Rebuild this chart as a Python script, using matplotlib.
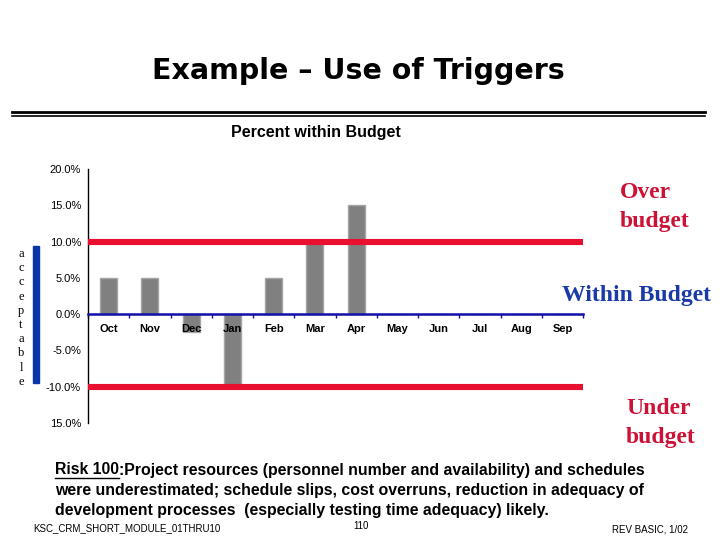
import matplotlib
matplotlib.use("Agg")
import matplotlib.pyplot as plt
from matplotlib.lines import Line2D
from matplotlib.patches import Rectangle

months = ["Oct", "Nov", "Dec", "Jan", "Feb", "Mar", "Apr", "May", "Jun", "Jul", "Aug", "Sep"]
values = [5.0, 5.0, -2.5, -10.0, 5.0, 10.0, 15.0, 0, 0, 0, 0, 0]
ytick_vals = [20, 15, 10, 5, 0, -5, -10, -15]
ytick_labels = ["20.0%", "15.0%", "10.0%", "5.0%", "0.0%", "-5.0%", "-10.0%", "15.0%"]
upper_trigger = 10.0
lower_trigger = -10.0

W, H = 720, 540
fig = plt.figure(figsize=(7.2, 5.4), dpi=100)
fig.patch.set_facecolor("white")

def fx(x):
    return x / W

def fy(y):
    return 1 - y / H

SANS = ["Liberation Sans", "DejaVu Sans"]
SERIF = ["Liberation Serif", "DejaVu Serif"]
RED_LINE = "#e8102e"
RED_TXT = "#cc1236"
BLUE_TXT = "#1a3aa6"

# Axes
ax_l, ax_r, ax_t, ax_b = 88, 583, 169, 423
ax = fig.add_axes([fx(ax_l), fy(ax_b), (ax_r - ax_l) / W, (ax_b - ax_t) / H])
ax.set_xlim(-0.5, len(months) - 0.5)
ax.set_ylim(-15, 20)

ax.bar(range(len(months)), values, width=0.41, color="#808080",
       edgecolor="#a6a6a6", linewidth=1.0, zorder=2)

ax.axhline(upper_trigger, color=RED_LINE, linewidth=4.4, zorder=3)
ax.axhline(lower_trigger, color=RED_LINE, linewidth=4.4, zorder=3)

for s in ["top", "right"]:
    ax.spines[s].set_visible(False)
ax.spines["left"].set_color("black")
ax.spines["left"].set_linewidth(1.0)
ax.spines["bottom"].set_position(("data", 0))
ax.spines["bottom"].set_color("#1010a8")
ax.spines["bottom"].set_linewidth(1.8)
ax.spines["bottom"].set_zorder(4)

ax.set_xticks([i - 0.5 for i in range(len(months) + 1)])
ax.set_xticklabels([])
ax.tick_params(axis="x", direction="out", length=3, width=1, color="#1010a8")

ax.set_yticks(ytick_vals)
ax.set_yticklabels(ytick_labels, fontsize=8, family=SANS)
ax.tick_params(axis="y", length=0, pad=5)

for i, m in enumerate(months):
    ax.annotate(m, xy=(i, 0), xytext=(0, -11), textcoords="offset points",
                ha="center", va="center", fontsize=8, fontweight="bold",
                family=SANS, zorder=6)

# Title and double rule
fig.text(fx(358), fy(71), "Example – Use of Triggers", ha="center", va="center",
         fontsize=20.5, fontweight="bold", family=["DejaVu Sans"])
fig.add_artist(Line2D([fx(12), fx(705)], [fy(112), fy(112)], color="black", linewidth=2.0))
fig.add_artist(Line2D([fx(12), fx(705)], [fy(116), fy(116)], color="black", linewidth=1.2))

fig.text(fx(316), fy(132), "Percent within Budget", ha="center", va="center",
         fontsize=11.5, fontweight="bold", family=SANS)

# acceptable band
letters = list("acceptable")
for k, ch in enumerate(letters):
    fig.text(fx(21), fy(254 + k * 14.2), ch, ha="center", va="center",
             fontsize=9, family=SERIF)
fig.add_artist(Rectangle((fx(33), fy(383)), 6 / W, (383 - 246) / H,
                         transform=fig.transFigure, color="#0a35a8"))

# Annotation labels
fig.text(fx(620), fy(193), "Over", ha="left", va="center", fontsize=17,
         fontweight="bold", family=SERIF, color=RED_TXT)
fig.text(fx(620), fy(222), "budget", ha="left", va="center", fontsize=17,
         fontweight="bold", family=SERIF, color=RED_TXT)
fig.text(fx(637), fy(295), "Within Budget", ha="center", va="center", fontsize=17,
         fontweight="bold", family=SERIF, color=BLUE_TXT)
fig.text(fx(626), fy(409), "Under", ha="left", va="center", fontsize=17,
         fontweight="bold", family=SERIF, color=RED_TXT)
fig.text(fx(626), fy(438), "budget", ha="left", va="center", fontsize=17,
         fontweight="bold", family=SERIF, color=RED_TXT)

# Risk text
risk_head = "Risk 100"
risk_lines = [
    ":Project resources (personnel number and availability) and schedules",
    "were underestimated; schedule slips, cost overruns, reduction in adequacy of",
    "development processes  (especially testing time adequacy) likely.",
]
fs_risk = 11.4
renderer = fig.canvas.get_renderer()
head = fig.text(fx(55), fy(470), risk_head, ha="left", va="center",
                fontsize=fs_risk, fontweight="bold", family=SANS)
bb = head.get_window_extent(renderer=renderer)
x_end = bb.x1 / fig.dpi / 7.2
fig.add_artist(Line2D([fx(55), x_end], [fy(478), fy(478)], color="black", linewidth=1.0))
fig.text(x_end, fy(470), risk_lines[0], ha="left", va="center",
         fontsize=fs_risk, fontweight="bold", family=SANS)
fig.text(fx(55), fy(490), risk_lines[1], ha="left", va="center",
         fontsize=fs_risk, fontweight="bold", family=SANS)
fig.text(fx(55), fy(510), risk_lines[2], ha="left", va="center",
         fontsize=fs_risk, fontweight="bold", family=SANS)

# Footer
fig.text(fx(33), fy(528), "KSC_CRM_SHORT_MODULE_01THRU10", ha="left", va="center",
         fontsize=7, family=SANS)
fig.text(fx(361), fy(526), "110", ha="center", va="center", fontsize=7, family=SANS)
fig.text(fx(688), fy(529), "REV BASIC, 1/02", ha="right", va="center",
         fontsize=7, family=SANS)

fig.savefig("out.png", dpi=100)
